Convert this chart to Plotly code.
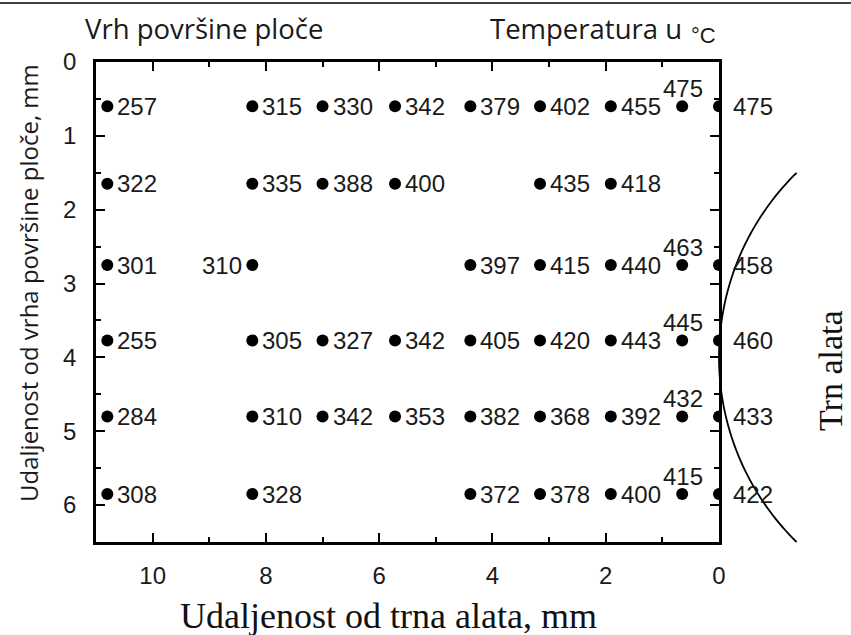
import plotly.graph_objects as go
import numpy as np

# ---------------- data ----------------
X_COLS = [10.8, 8.24, 7.0, 5.72, 4.39, 3.16, 1.91, 0.65, 0.0]   # distance from tool pin, mm
Y_ROWS = [0.6, 1.65, 2.75, 3.77, 4.8, 5.85]                     # distance from plate top, mm
T_ROW0 = [257, 315, 330, 342, 379, 402, 455, 475, 475]
T_ROW1 = [322, 335, 388, 400, None, 435, 418, None, None]
T_ROW2 = [301, 310, None, None, 397, 415, 440, 463, 458]
T_ROW3 = [255, 305, 327, 342, 405, 420, 443, 445, 460]
T_ROW4 = [284, 310, 342, 353, 382, 368, 392, 432, 433]
T_ROW5 = [308, 328, None, None, 372, 378, 400, 415, 422]
TEMPS = [T_ROW0, T_ROW1, T_ROW2, T_ROW3, T_ROW4, T_ROW5]

X_TICKS = [10, 8, 6, 4, 2, 0]
Y_TICKS = [0, 1, 2, 3, 4, 5, 6]
X_RANGE = [11, 0]
Y_RANGE = [6.5, 0]

# tool pin outline (circle arc): vertex depth, half span, sagitta (mm)
PIN_VERTEX_Y = 4.0
PIN_HALF_SPAN = 2.5
PIN_SAGITTA = 1.37

# ---------------- layout geometry ----------------
W, H = 851, 635
ML, MR, MT, MB = 96, 132, 62, 93
PW, PH = W - ML - MR, H - MT - MB

def px_to_paper_x(px):
    return (px - ML) / PW

def px_to_paper_y(py):
    return 1 - (py - MT) / PH

def data_to_px(xd, yd):
    px = ML + (X_RANGE[0] - xd) / (X_RANGE[0] - X_RANGE[1]) * PW
    py = MT + (yd - Y_RANGE[1]) / (Y_RANGE[0] - Y_RANGE[1]) * PH
    return px, py

xs, ys, ts = [], [], []
for yr, row in zip(Y_ROWS, TEMPS):
    for xc, t in zip(X_COLS, row):
        if t is not None:
            xs.append(xc); ys.append(yr); ts.append(t)

fig = go.Figure()
fig.add_trace(go.Scatter(
    x=xs, y=ys, mode="markers",
    marker=dict(size=12, color="black"),
    cliponaxis=True, hoverinfo="skip", showlegend=False,
))

LABEL_FONT = dict(family="Liberation Sans, Arial, sans-serif", size=24, color="#1a1a1a")
LEFT_LABELS = {(2.75, 8.24)}
annotations = []
for xv, yv, t in zip(xs, ys, ts):
    if (yv, xv) in LEFT_LABELS:
        a = dict(xanchor="right", yanchor="middle", xshift=-8, yshift=0)
    elif xv == X_COLS[-2]:
        a = dict(xanchor="center", yanchor="middle", xshift=1, yshift=18)
    elif xv == X_COLS[-1]:
        a = dict(xanchor="left", yanchor="middle", xshift=12, yshift=0)
    else:
        a = dict(xanchor="left", yanchor="middle", xshift=8, yshift=0)
    annotations.append(dict(x=xv, y=yv, xref="x", yref="y", text=str(t),
                            showarrow=False, font=LABEL_FONT, **a))

SANS = "Open Sans, Lato, sans-serif"
SERIF = "Liberation Serif, Times New Roman, serif"
annotations += [
    dict(text="Vrh površine ploče", x=px_to_paper_x(83), y=px_to_paper_y(28),
         xref="paper", yref="paper", xanchor="left", yanchor="middle",
         showarrow=False, font=dict(family=SANS, size=27.5, color="#1a1a1a")),
    dict(text="Temperatura u", x=px_to_paper_x(488), y=px_to_paper_y(29),
         xref="paper", yref="paper", xanchor="left", yanchor="middle",
         showarrow=False, font=dict(family=SANS, size=27.5, color="#1a1a1a")),
    dict(text="°C", x=px_to_paper_x(689), y=px_to_paper_y(35),
         xref="paper", yref="paper", xanchor="left", yanchor="middle",
         showarrow=False, font=dict(family="Liberation Sans, Arial", size=22, color="#1a1a1a")),
    dict(text="Udaljenost od vrha površine ploče, mm", x=px_to_paper_x(28), y=px_to_paper_y(283),
         xref="paper", yref="paper", xanchor="center", yanchor="middle", textangle=-90,
         showarrow=False, font=dict(family=SANS, size=24, color="#1a1a1a")),
    dict(text="Udaljenost od trna alata, mm", x=px_to_paper_x(388), y=px_to_paper_y(616),
         xref="paper", yref="paper", xanchor="center", yanchor="middle",
         showarrow=False, font=dict(family=SERIF, size=36, color="#111111")),
    dict(text="Trn alata", x=px_to_paper_x(830), y=px_to_paper_y(370),
         xref="paper", yref="paper", xanchor="center", yanchor="middle", textangle=-90,
         showarrow=False, font=dict(family=SERIF, size=34, color="#111111")),
]

# arc of the tool pin: circle in pixel space through the three points
vx, vy = data_to_px(0.0, PIN_VERTEX_Y)
ex, ey_top = data_to_px(-PIN_SAGITTA, PIN_VERTEX_Y - PIN_HALF_SPAN)
_, ey_bot = data_to_px(-PIN_SAGITTA, PIN_VERTEX_Y + PIN_HALF_SPAN)
h = (ey_bot - ey_top) / 2
s = ex - vx
R = (h * h + s * s) / (2 * s)
cx, cy = vx + R, vy
ang = np.arcsin(h / R)
thetas = np.linspace(-ang, ang, 80)
pts = [(cx - R * np.cos(th), cy + R * np.sin(th)) for th in thetas]
path = "M " + " L ".join(f"{px_to_paper_x(p[0]):.5f},{px_to_paper_y(p[1]):.5f}" for p in pts)

shapes = [
    dict(type="path", path=path, xref="paper", yref="paper",
         line=dict(color="black", width=1.8)),
    dict(type="line", xref="paper", yref="paper",
         x0=px_to_paper_x(0), x1=px_to_paper_x(W), y0=px_to_paper_y(3), y1=px_to_paper_y(3),
         line=dict(color="black", width=1.5)),
]

axis_common = dict(
    showline=True, linecolor="black", linewidth=2.5, mirror="allticks",
    ticks="inside", ticklen=9, tickwidth=2, tickcolor="black",
    showgrid=False, zeroline=False,
    tickfont=dict(family="Liberation Sans, Arial, sans-serif", size=24, color="#1a1a1a"),
)

fig.update_layout(
    width=W, height=H,
    margin=dict(l=ML, r=MR, t=MT, b=MB),
    paper_bgcolor="white", plot_bgcolor="white",
    xaxis=dict(range=X_RANGE, tickvals=X_TICKS, ticktext=[str(v) for v in X_TICKS],
               minor=dict(dtick=1, ticks="inside", ticklen=5, tickwidth=2, tickcolor="black"),
               ticklabelstandoff=10, **axis_common),
    yaxis=dict(range=Y_RANGE, tickvals=Y_TICKS, ticktext=[str(v) for v in Y_TICKS],
               minor=dict(dtick=0.5, ticks="inside", ticklen=5, tickwidth=2, tickcolor="black"),
               ticklabelstandoff=12, **axis_common),
    annotations=annotations,
    shapes=shapes,
    showlegend=False,
)

fig.write_html("out.html", config={"displayModeBar": False},
               post_script="document.body.style.margin='0';document.body.style.overflow='hidden';")
